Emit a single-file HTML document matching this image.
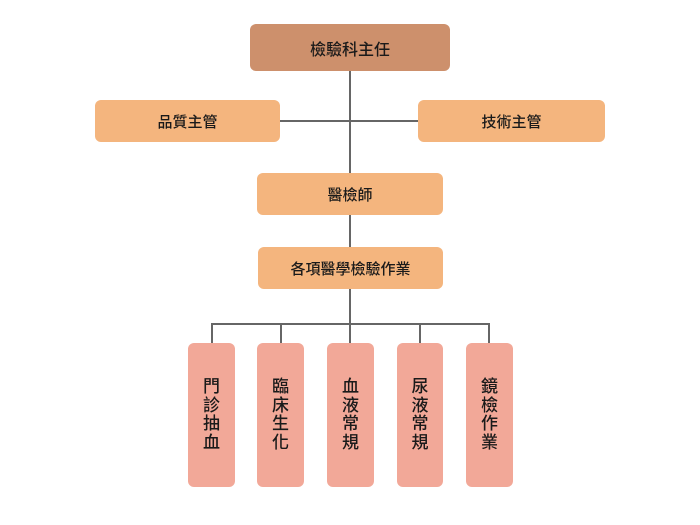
<!DOCTYPE html>
<html><head><meta charset="utf-8"><style>
body{margin:0;background:#fff;width:700px;height:525px;position:relative;font-family:"Liberation Sans","Noto Sans CJK TC",sans-serif;color:#1a1a1a}
.b{position:absolute;border-radius:6px;display:flex;align-items:center;justify-content:center;font-size:15px;font-weight:500}
.o{background:#F4B57E}
.p{background:#F2A898;flex-direction:column;font-size:17px;line-height:18.5px}
.l{position:absolute;background:#666}
</style></head><body>
<div class="l" style="left:349px;top:71px;width:2px;height:102px"></div>
<div class="l" style="left:280px;top:120px;width:138px;height:2px"></div>
<div class="l" style="left:349px;top:215px;width:2px;height:32px"></div>
<div class="l" style="left:349px;top:289px;width:2px;height:54px"></div>
<div class="l" style="left:211px;top:323px;width:279px;height:2px"></div>
<div class="l" style="left:211px;top:323px;width:2px;height:20px"></div>
<div class="l" style="left:280px;top:323px;width:2px;height:20px"></div>
<div class="l" style="left:419px;top:323px;width:2px;height:20px"></div>
<div class="l" style="left:488px;top:323px;width:2px;height:20px"></div>
<div class="b" style="left:250px;top:24px;width:200px;height:47px;background:#CD906C;font-size:16px">檢驗科主任</div>
<div class="b o" style="left:95px;top:100px;width:185px;height:42px">品質主管</div>
<div class="b o" style="left:418px;top:100px;width:187px;height:42px">技術主管</div>
<div class="b o" style="left:257px;top:173px;width:186px;height:42px">醫檢師</div>
<div class="b o" style="left:258px;top:247px;width:185px;height:42px">各項醫學檢驗作業</div>
<div class="b p" style="left:188px;top:343px;width:47px;height:144px"><span>門</span><span>診</span><span>抽</span><span>血</span></div>
<div class="b p" style="left:257px;top:343px;width:47px;height:144px"><span>臨</span><span>床</span><span>生</span><span>化</span></div>
<div class="b p" style="left:327px;top:343px;width:47px;height:144px"><span>血</span><span>液</span><span>常</span><span>規</span></div>
<div class="b p" style="left:397px;top:343px;width:46px;height:144px"><span>尿</span><span>液</span><span>常</span><span>規</span></div>
<div class="b p" style="left:466px;top:343px;width:47px;height:144px"><span>鏡</span><span>檢</span><span>作</span><span>業</span></div>
</body></html>
